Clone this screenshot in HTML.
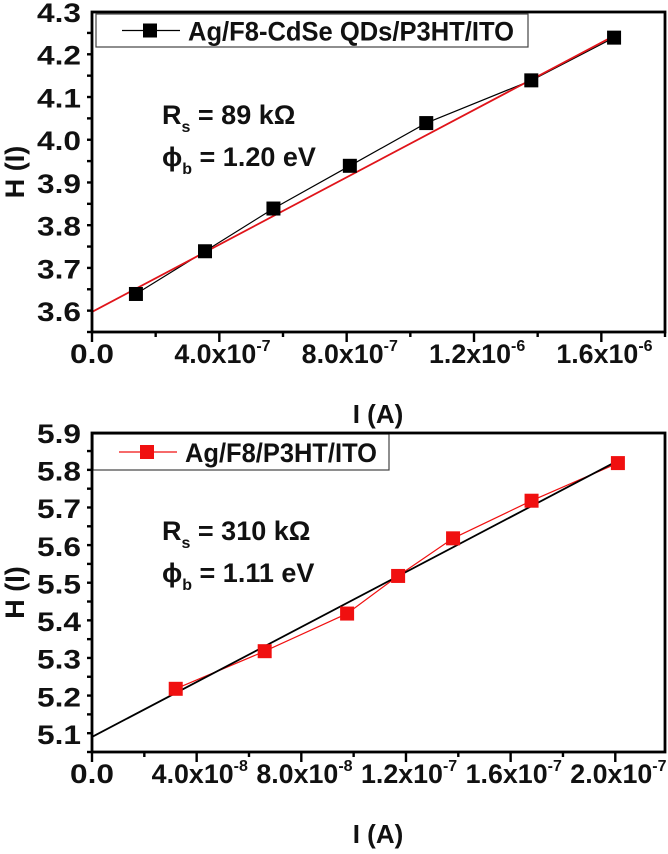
<!DOCTYPE html>
<html><head><meta charset="utf-8"><style>
body{margin:0;background:#fff}
svg text{font-family:"Liberation Sans",Arial,sans-serif;font-weight:bold;fill:#111}
</style></head><body>
<svg id="chart" width="668" height="849" viewBox="0 0 668 849" xmlns="http://www.w3.org/2000/svg"></svg>
<script>
// Top panel data
const topX = [1.38e-7, 3.55e-7, 5.7e-7, 8.1e-7, 1.05e-6, 1.38e-6, 1.64e-6];
const topY = [3.64, 3.74, 3.84, 3.94, 4.04, 4.14, 4.24];
const topFitX = [0, 1.65e-6];
const topFitY = [3.598, 4.248];
const topYTicks = [3.6, 3.7, 3.8, 3.9, 4.0, 4.1, 4.2, 4.3];
const topXTicks = [0, 4e-7, 8e-7, 1.2e-6, 1.6e-6];
const topXTickLabels = [["0.0",""],["4.0x10","-7"],["8.0x10","-7"],["1.2x10","-6"],["1.6x10","-6"]];
// Bottom panel data
const botX = [3.2e-8, 6.6e-8, 9.75e-8, 1.17e-7, 1.38e-7, 1.68e-7, 2.01e-7];
const botY = [5.22, 5.32, 5.42, 5.52, 5.62, 5.72, 5.82];
const botFitX = [0, 2.02e-7];
const botFitY = [5.092, 5.83];
const botYTicks = [5.1, 5.2, 5.3, 5.4, 5.5, 5.6, 5.7, 5.8, 5.9];
const botXTicks = [0, 4e-8, 8e-8, 1.2e-7, 1.6e-7, 2e-7];
const botXTickLabels = [["0.0",""],["4.0x10","-8"],["8.0x10","-8"],["1.2x10","-7"],["1.6x10","-7"],["2.0x10","-7"]];

const NS="http://www.w3.org/2000/svg";
const svg=document.getElementById('chart');
function mk(tag,attrs,parent){const e=document.createElementNS(NS,tag);for(const k in attrs)e.setAttribute(k,attrs[k]);(parent||svg).appendChild(e);return e;}

function panel(o){
  const g=mk('g',{});
  
  
  const L=92,R=665,T=o.top,B=o.bottom;
  const sx=v=>L+(v-o.x0)/(o.x1-o.x0)*(R-L);
  const sy=v=>B-(v-o.y0)/(o.y1-o.y0)*(B-T);
  // legend
  const lg=mk('g',{},g);
  
  
  mk('rect',{x:o.leg[0],y:o.leg[1],width:o.leg[2],height:o.leg[3],fill:'#fff',stroke:'#444','stroke-width':1.2},lg);
  const ly=o.leg[1]+o.leg[3]/2;
  mk('line',{x1:o.leg[0]+26,x2:o.leg[0]+84,y1:ly,y2:ly,stroke:o.dataColor,'stroke-width':1.2},lg);
  mk('rect',{x:o.leg[0]+47,y:ly-7,width:14,height:14,fill:o.dataColor},lg);
  const lt=mk('text',{x:o.leg[0]+92,y:ly+10,'font-size':27,textLength:o.legW,lengthAdjust:'spacingAndGlyphs'},lg);lt.textContent=o.legText;
  // data line and points
  const d=o.xs.map((v,i)=>(i?'L':'M')+sx(v).toFixed(1)+','+sy(o.ys[i]).toFixed(1)).join(' ');
  const dl=mk('path',{d:d,fill:'none',stroke:o.dataColor,'stroke-width':1.2},g);
  
  
  // fit
  const fl=mk('line',{x1:sx(o.fx[0]),y1:sy(o.fy[0]),x2:sx(o.fx[1]),y2:sy(o.fy[1]),stroke:o.fitColor,'stroke-width':1.8},g);
  
  
  o.xs.forEach((v,i)=>{
    const p=mk('rect',{x:sx(v)-7,y:sy(o.ys[i])-7,width:14,height:14,fill:o.dataColor},g);
    
    
  });
  // frame
  mk('rect',{x:L,y:T,width:R-L,height:B-T,fill:'none',stroke:'#000','stroke-width':2.8},g);
  // y ticks
  for(let v=o.y0;v<=o.y1+1e-9;v+=0.05){
    const y=sy(v);const major=Math.abs(Math.round(v*10)-v*10)<1e-6;
    mk('line',{x1:L-(major?10:5),x2:L,y1:y,y2:y,stroke:'#000','stroke-width':2.4},g);
  }
  o.yt.forEach(v=>{const t=mk('text',{x:81,y:sy(v)+10,'font-size':27,'text-anchor':'end',textLength:44,lengthAdjust:'spacingAndGlyphs'},g);t.textContent=v.toFixed(1);
    });
  // x ticks
  const step=(o.xt[1]-o.xt[0])/2;
  for(let v=0;v<=o.x1*1.0001;v+=step){
    const x=sx(v);const major=Math.round(v/step)%2===0;
    mk('line',{x1:x,x2:x,y1:B,y2:B+(major?10:5),stroke:'#000','stroke-width':2.4},g);
  }
  o.xt.forEach((v,i)=>{const lab=o.xl[i];
    const g2=mk('text',{x:sx(v)+(lab[1]?-45:-22),y:B+31,'font-size':27},g);
    
    const m=mk('tspan',{textLength:lab[1]?82:44,lengthAdjust:'spacingAndGlyphs'},g2);m.textContent=lab[0];
    if(lab[1]){const s=mk('tspan',{dy:-12,'font-size':16},g2);s.textContent=lab[1];}
  });
  // axis titles
  const xt=mk('text',{x:378,y:o.xTitleY,'font-size':26,'text-anchor':'middle'},g);xt.textContent='I (A)';
  
  const yt=mk('text',{x:0,y:0,'font-size':27,'text-anchor':'middle',transform:`translate(24,${(T+B)/2}) rotate(-90)`},g);yt.textContent='H (I)';
  
  // annotations
  const a1=mk('text',{x:162,y:o.annY,'font-size':27},g);a1.textContent='R';
  const s1=mk('tspan',{dy:8,'font-size':16},a1);s1.textContent='s';
  const s2=mk('tspan',{dy:-8},a1);s2.textContent=' = '+o.rs;
  
  const a2=mk('text',{x:162,y:o.annY+42,'font-size':27},g);a2.textContent='\u03D5';
  const s3=mk('tspan',{dy:8,'font-size':16},a2);s3.textContent='b';
  const s4=mk('tspan',{dy:-8},a2);s4.textContent=' = '+o.phi;
  
}

panel({name:'top-panel',top:12,bottom:332,x0:0,x1:1.8e-6,y0:3.551,y1:4.3,
  xs:topX,ys:topY,fx:topFitX,fy:topFitY,yt:topYTicks,xt:topXTicks,xl:topXTickLabels,
  dataColor:'#000',fitColor:'#e0141a',leg:[96,14,432,33],legText:'Ag/F8-CdSe QDs/P3HT/ITO',legW:326,
  xTitleY:423,annY:124,rs:'89 k\u03A9',phi:'1.20 eV'});
panel({name:'bottom-panel',top:433,bottom:752,x0:0,x1:2.19e-7,y0:5.052,y1:5.9,
  xs:botX,ys:botY,fx:botFitX,fy:botFitY,yt:botYTicks,xt:botXTicks,xl:botXTickLabels,
  dataColor:'#f01010',fitColor:'#000',leg:[93,434,296,36],legText:'Ag/F8/P3HT/ITO',legW:192,
  xTitleY:843,annY:540,rs:'310 k\u03A9',phi:'1.11 eV'});
</script>
</body></html>
